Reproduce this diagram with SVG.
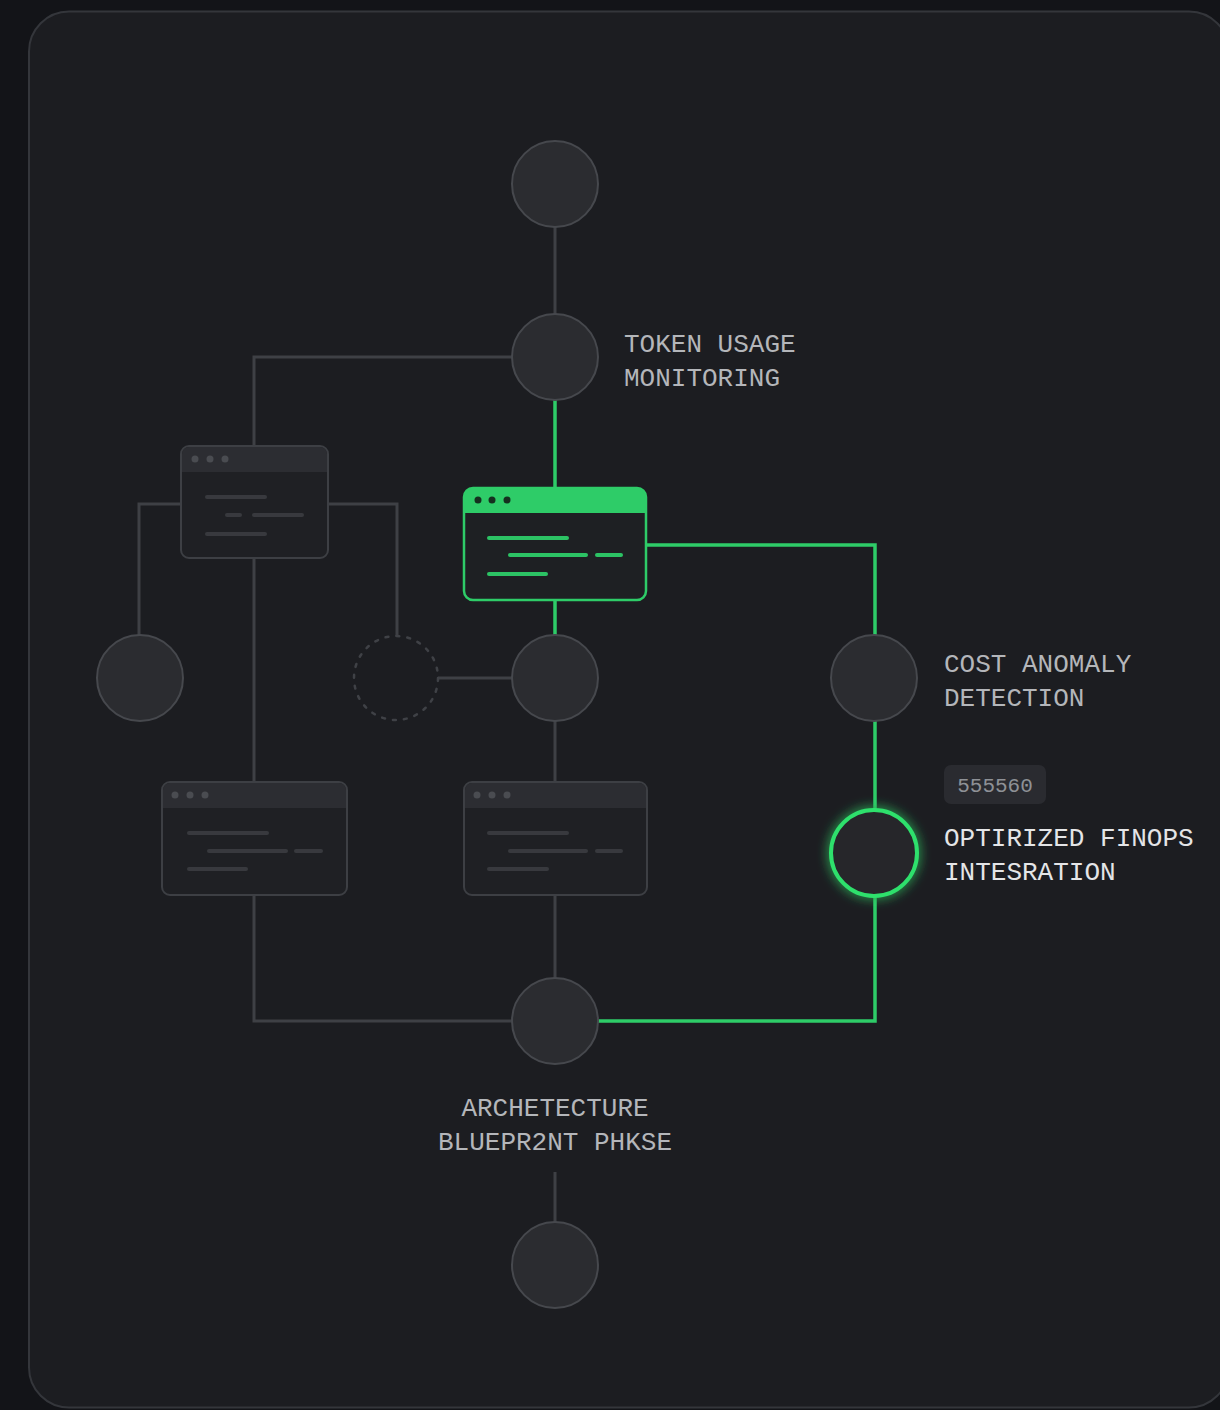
<svg xmlns="http://www.w3.org/2000/svg" width="1220" height="1410" viewBox="0 0 1220 1410">
<defs>
<style>
.node{fill:#2b2c30;stroke:#46484d;stroke-width:2}
.wire{fill:none;stroke:#3e4045;stroke-width:3}
.gwire{fill:none;stroke:#2ecc68;stroke-width:3.5}
.win{fill:#1f2024;stroke:#3d3f44;stroke-width:2}
.hdr{fill:#2c2d32}
.dot{fill:#4a4c51}
.ln{stroke:#38393e;stroke-width:4;stroke-linecap:round}
.gln{stroke:#2cc264;stroke-width:4;stroke-linecap:round}
.lbl{font-family:"Liberation Mono","DejaVu Sans Mono",monospace;font-size:26px;fill:#b4b6ba}
.lblb{font-family:"Liberation Mono","DejaVu Sans Mono",monospace;font-size:26px;fill:#e4e5e7}
</style>
<filter id="glow" x="-50%" y="-50%" width="200%" height="200%">
<feGaussianBlur stdDeviation="6" result="b"/>
<feMerge><feMergeNode in="b"/><feMergeNode in="SourceGraphic"/></feMerge>
</filter>
<clipPath id="gclip"><rect x="464" y="488" width="182" height="112" rx="9"/></clipPath>
</defs>
<rect width="1220" height="1410" fill="#131418"/>
<rect x="29" y="11.5" width="1200" height="1396" rx="40" fill="#1c1d21" stroke="#34363b" stroke-width="2"/>

<g id="connectors">
<path class="wire" d="M555 227V314"/>
<path class="wire" d="M512 357H254V446"/>
<path class="wire" d="M181 504H139V635"/>
<path class="wire" d="M328 504H397V636"/>
<path class="wire" d="M254 558V782"/>
<path class="wire" d="M254 895V1021H512"/>
<path class="wire" d="M438 678H512"/>
<path class="wire" d="M555 721V782"/>
<path class="wire" d="M555 895V978"/>
<path class="wire" d="M555 1172V1222"/>
<path class="gwire" d="M555 400V488"/>
<path class="gwire" d="M555 600V635"/>
<path class="gwire" d="M646 545H875V635"/>
<path class="gwire" d="M875 721V810"/>
<path class="gwire" d="M875 896V1021H598"/>
</g>

<g id="node-top"><circle class="node" cx="555" cy="184" r="43"/></g>
<g id="node-token"><circle class="node" cx="555" cy="357" r="43"/>
<text class="lbl" x="624" y="352">TOKEN USAGE</text>
<text class="lbl" x="624" y="386">MONITORING</text></g>

<g id="win-left">
<rect class="win" x="181" y="446" width="147" height="112" rx="8"/>
<path class="hdr" d="M189 447H320A7 7 0 0 1 327 454V472H182V454A7 7 0 0 1 189 447Z"/>
<circle class="dot" cx="195" cy="459" r="3.5"/><circle class="dot" cx="210" cy="459" r="3.5"/><circle class="dot" cx="225" cy="459" r="3.5"/>
<line class="ln" x1="207" y1="497" x2="265" y2="497"/>
<line class="ln" x1="227" y1="515" x2="240" y2="515"/><line class="ln" x1="254" y1="515" x2="302" y2="515"/>
<line class="ln" x1="207" y1="534" x2="265" y2="534"/>
</g>

<g id="win-green">
<rect x="464" y="488" width="182" height="112" rx="9" fill="#1e2023"/>
<rect x="464" y="488" width="182" height="25" fill="#2ecc68" clip-path="url(#gclip)"/>
<rect x="464" y="488" width="182" height="112" rx="9" fill="none" stroke="#2ecc68" stroke-width="2.5"/>
<circle cx="478" cy="500" r="3.5" fill="#15301f"/><circle cx="492" cy="500" r="3.5" fill="#15301f"/><circle cx="507" cy="500" r="3.5" fill="#15301f"/>
<line class="gln" x1="489" y1="538" x2="567" y2="538"/>
<line class="gln" x1="510" y1="555" x2="586" y2="555"/><line class="gln" x1="597" y1="555" x2="621" y2="555"/>
<line class="gln" x1="489" y1="574" x2="546" y2="574"/>
</g>

<g id="node-left"><circle class="node" cx="140" cy="678" r="43"/></g>
<g id="node-dashed"><circle cx="396" cy="678" r="42" fill="none" stroke="#3f4146" stroke-width="2.5" stroke-dasharray="3 8" stroke-linecap="round"/></g>
<g id="node-mid"><circle class="node" cx="555" cy="678" r="43"/></g>
<g id="node-cost"><circle class="node" cx="874" cy="678" r="43"/>
<text class="lbl" x="944" y="672">COST ANOMALY</text>
<text class="lbl" x="944" y="706">DETECTION</text></g>

<g id="badge">
<rect x="944" y="765" width="102" height="39" rx="7" fill="#2a2b30"/>
<text x="995" y="792" text-anchor="middle" font-family="Liberation Mono, DejaVu Sans Mono, monospace" font-size="21" fill="#8e9196">555560</text>
</g>

<g id="node-finops">
<circle cx="874" cy="853" r="43" fill="#262729" stroke="#2ee06c" stroke-width="4" filter="url(#glow)"/>
<text class="lblb" x="944" y="846">OPTIRIZED FINOPS</text>
<text class="lblb" x="944" y="880">INTESRATION</text>
</g>

<g id="win-lowleft">
<rect class="win" x="162" y="782" width="185" height="113" rx="8"/>
<path class="hdr" d="M170 783H339A7 7 0 0 1 346 790V808H163V790A7 7 0 0 1 170 783Z"/>
<circle class="dot" cx="175" cy="795" r="3.5"/><circle class="dot" cx="190" cy="795" r="3.5"/><circle class="dot" cx="205" cy="795" r="3.5"/>
<line class="ln" x1="189" y1="833" x2="267" y2="833"/>
<line class="ln" x1="209" y1="851" x2="286" y2="851"/><line class="ln" x1="296" y1="851" x2="321" y2="851"/>
<line class="ln" x1="189" y1="869" x2="246" y2="869"/>
</g>

<g id="win-lowmid">
<rect class="win" x="464" y="782" width="183" height="113" rx="8"/>
<path class="hdr" d="M472 783H639A7 7 0 0 1 646 790V808H465V790A7 7 0 0 1 472 783Z"/>
<circle class="dot" cx="477" cy="795" r="3.5"/><circle class="dot" cx="492" cy="795" r="3.5"/><circle class="dot" cx="507" cy="795" r="3.5"/>
<line class="ln" x1="489" y1="833" x2="567" y2="833"/>
<line class="ln" x1="510" y1="851" x2="586" y2="851"/><line class="ln" x1="597" y1="851" x2="621" y2="851"/>
<line class="ln" x1="489" y1="869" x2="547" y2="869"/>
</g>

<g id="node-merge"><circle class="node" cx="555" cy="1021" r="43"/>
<text class="lbl" x="555" y="1116" text-anchor="middle">ARCHETECTURE</text>
<text class="lbl" x="555" y="1150" text-anchor="middle">BLUEPR2NT PHKSE</text></g>

<g id="node-bottom"><circle class="node" cx="555" cy="1265" r="43"/></g>
</svg>
